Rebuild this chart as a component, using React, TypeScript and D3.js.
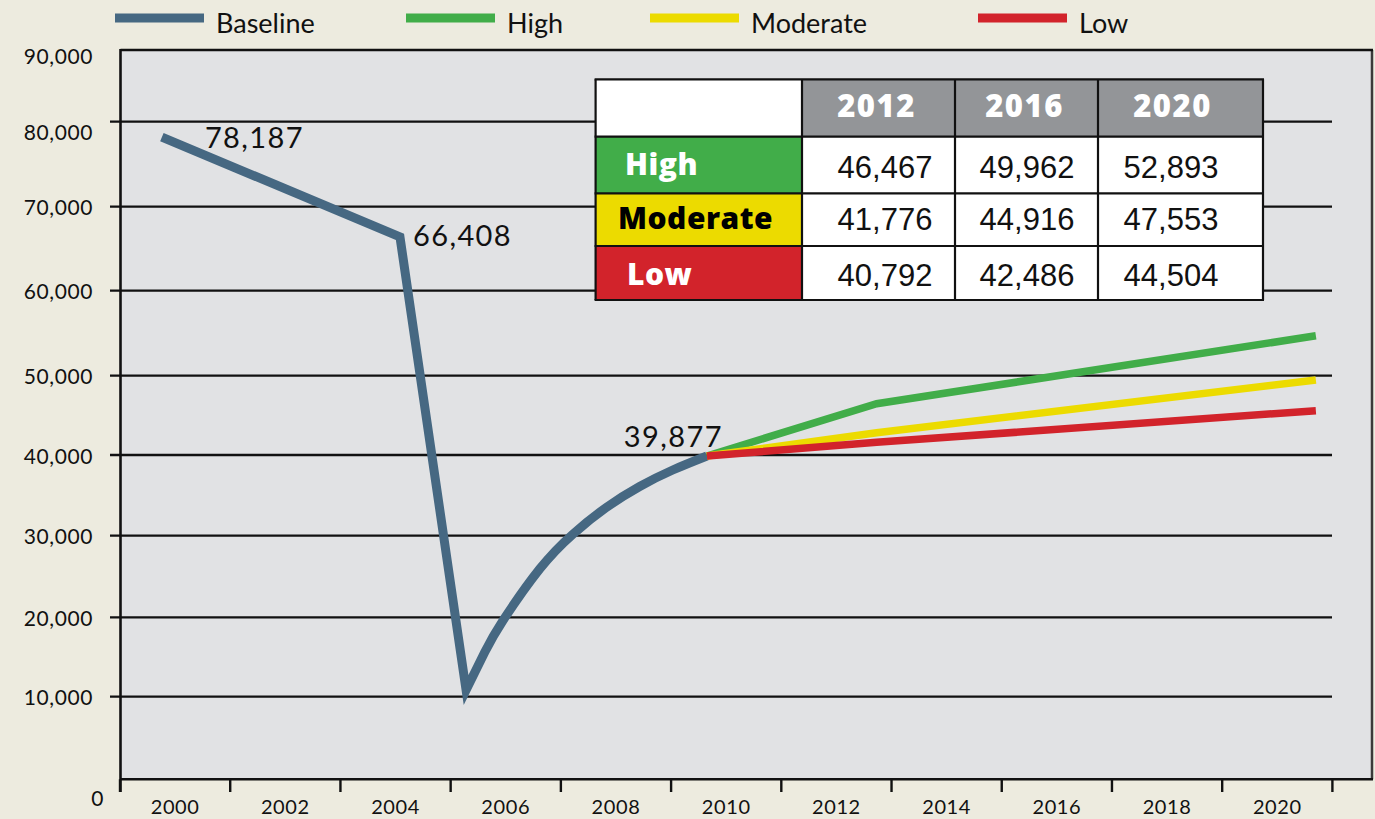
import React from 'react';
import * as d3 from 'd3';

// ---------- data ----------
const xLabelYears = [2000, 2002, 2004, 2006, 2008, 2010, 2012, 2014, 2016, 2018, 2020];
const xTickYears = [1999, 2001, 2003, 2005, 2007, 2009, 2011, 2013, 2015, 2017, 2019, 2021];
const yTickValues = [0, 10000, 20000, 30000, 40000, 50000, 60000, 70000, 80000, 90000];

// baseline: straight decline then collapse
const baselineYears = [1999.76, 2004.08, 2005.28];
const baselineValues = [78187, 66408, 10840];
// baseline recovery (smooth)
const recoveryYears = [2005.28, 2005.62, 2005.95, 2006.62, 2007.22, 2007.82, 2008.43, 2009.03, 2009.65];
const recoveryValues = [10840, 15630, 19600, 25960, 30210, 33480, 36100, 38140, 39877];

// projections
const projectionYears = [2009.65, 2012.73, 2020.7];
const highValues = [39877, 46467, 54700];
const moderateValues = [39877, 42800, 49450];
const lowValues = [39877, 41600, 45590];

const labelPoints = [
  { year: 1999.76, value: 78187, text: '78,187' },
  { year: 2004.08, value: 66408, text: '66,408' },
  { year: 2009.65, value: 39877, text: '39,877' },
];

const legendLabels = ['Baseline', 'High', 'Moderate', 'Low'];
const tableYears = ['2012', '2016', '2020'];
const tableRowLabels = ['High', 'Moderate', 'Low'];
const tableHigh = ['46,467', '49,962', '52,893'];
const tableModerate = ['41,776', '44,916', '47,553'];
const tableLow = ['40,792', '42,486', '44,504'];

// ---------- styles ----------
const W = 1375;
const H = 819;
const BG = '#edebdf';
const PLOT_BG = '#e1e2e4';
const C_BASE = '#466882';
const C_HIGH = '#41ad49';
const C_MOD = '#ecdb00';
const C_LOW = '#d2232b';
const C_HEAD = '#939598';
const FONT = "Lato, 'Open Sans', sans-serif";
const FONT_BOLD = "'Open Sans', Lato, sans-serif";
const FONT_NUM = "'Liberation Sans', Arial, sans-serif";

const plotLeft = 120.5;
const plotRight = 1372;
const plotTop = 50;
const plotBottom = 779.3;
const gridRight = 1332;

export default function App() {
  const x = d3.scaleLinear().domain([1999, 2021]).range([120, 1332.4]);
  const y = d3
    .scaleLinear()
    .domain(yTickValues)
    .range([779.3, 696.7, 617.3, 535.7, 455, 375.7, 290.7, 206.7, 121.7, 50]);

  const lin = d3
    .line<[number, number]>()
    .x((d) => x(d[0]))
    .y((d) => y(d[1]));
  const smooth = d3
    .line<[number, number]>()
    .x((d) => x(d[0]))
    .y((d) => y(d[1]))
    .curve(d3.curveNatural);

  const basePts = baselineYears.map((yr, i) => [yr, baselineValues[i]] as [number, number]);
  const recPts = recoveryYears.map((yr, i) => [yr, recoveryValues[i]] as [number, number]);
  const basePath = (lin(basePts) || '') + (smooth(recPts) || '').replace(/^M/, 'L');

  const projSeries = [
    { values: highValues, color: C_HIGH },
    { values: moderateValues, color: C_MOD },
    { values: lowValues, color: C_LOW },
  ];

  const legendColors = [C_BASE, C_HIGH, C_MOD, C_LOW];
  const legendX = [115, 406, 650, 978];

  // table layout
  const colX = [595.6, 802, 955, 1098, 1263];
  const rowY = [79.3, 136.7, 193.3, 246, 300];
  const rowColors = [C_HIGH, C_MOD, C_LOW];
  const rowTextColors = ['#ffffff', '#000000', '#ffffff'];
  const rowLabelX = [625, 618, 627];
  const rowLabelBase = [175, 229, 285];
  const numBase = [178, 230, 286];
  const numCenters = [885, 1027, 1171];
  const tableRows = [tableHigh, tableModerate, tableLow];

  const labelOffsets: Record<number, { dx: number; dy: number; anchor: string }> = {
    0: { dx: 43, dy: 11, anchor: 'start' },
    1: { dx: 13, dy: 9.5, anchor: 'start' },
    2: { dx: 16, dy: -9, anchor: 'end' },
  };

  return (
    <div style={{ position: 'fixed', left: 0, top: 0, width: W, height: H }}>
      <svg width={W} height={H} style={{ display: 'block' }}>
        <rect x={0} y={0} width={W} height={H} fill={BG} />

        {/* plot area */}
        <rect
          x={plotLeft}
          y={plotTop}
          width={plotRight - plotLeft}
          height={plotBottom - plotTop}
          fill={PLOT_BG}
        />
        <line x1={plotRight} x2={plotRight} y1={plotTop} y2={plotBottom} stroke="#3a3a3a" strokeWidth={2.5} />
        <line x1={plotLeft} x2={plotRight + 1} y1={plotTop} y2={plotTop} stroke="#111" strokeWidth={2.5} />

        {/* gridlines + y ticks */}
        {yTickValues
          .filter((v) => v > 0 && v < 90000)
          .map((v) => (
            <line key={'g' + v} x1={110} x2={gridRight} y1={y(v)} y2={y(v)} stroke="#111" strokeWidth={2.3} />
          ))}

        {/* y labels */}
        {yTickValues.map((v) => {
          let dy = 0;
          let xr = 93;
          if (v === 90000) dy = 5;
          if (v === 80000) dy = 10;
          if (v === 0) {
            dy = 18;
            xr = 104;
          }
          return (
            <text
              key={'yl' + v}
              x={xr}
              y={y(v) + dy}
              textAnchor="end"
              dominantBaseline="central"
              fontFamily={FONT}
              fontSize={21}
              letterSpacing={0.6}
              fill="#111"
            >
              {d3.format(',')(v)}
            </text>
          );
        })}

        {/* axes */}
        <line x1={plotLeft} x2={plotLeft} y1={plotTop - 1} y2={792} stroke="#111" strokeWidth={2.6} />
        <line x1={plotLeft} x2={plotRight + 1} y1={plotBottom} y2={plotBottom} stroke="#111" strokeWidth={2.6} />
        {xTickYears.map((yr) => (
          <line key={'xt' + yr} x1={x(yr)} x2={x(yr)} y1={plotBottom} y2={792} stroke="#111" strokeWidth={2.4} />
        ))}
        {xLabelYears.map((yr) => (
          <text
            key={'xl' + yr}
            x={x(yr)}
            y={814}
            textAnchor="middle"
            fontFamily={FONT}
            fontSize={20}
            letterSpacing={0.6}
            fill="#111"
          >
            {yr}
          </text>
        ))}

        {/* baseline */}
        <path d={basePath} fill="none" stroke={C_BASE} strokeWidth={9} strokeLinejoin="miter" />

        {/* projections */}
        {projSeries.map((s, si) => (
          <path
            key={'p' + si}
            d={lin(projectionYears.map((yr, i) => [yr, s.values[i]] as [number, number])) || ''}
            fill="none"
            stroke={s.color}
            strokeWidth={7.5}
          />
        ))}

        {/* data labels */}
        {labelPoints.map((p, i) => (
          <text
            key={'dl' + i}
            x={x(p.year) + labelOffsets[i].dx}
            y={y(p.value) + labelOffsets[i].dy}
            textAnchor={labelOffsets[i].anchor as any}
            fontFamily={FONT}
            fontSize={29}
            letterSpacing={1.4}
            fill="#111"
          >
            {p.text}
          </text>
        ))}

        {/* table */}
        <g>
          <rect x={colX[0]} y={rowY[0]} width={colX[1] - colX[0]} height={rowY[1] - rowY[0]} fill="#fff" />
          {tableYears.map((t, j) => (
            <g key={'th' + t}>
              <rect
                x={colX[j + 1]}
                y={rowY[0]}
                width={colX[j + 2] - colX[j + 1]}
                height={rowY[1] - rowY[0]}
                fill={C_HEAD}
              />
              <text
                x={(colX[j + 1] + colX[j + 2]) / 2 - (j === 2 ? 8 : 2)}
                y={116.7}
                textAnchor="middle"
                fontFamily={FONT_BOLD}
                fontWeight={800}
                fontSize={31}
                letterSpacing={1.5}
                fill="#fff"
              >
                {t}
              </text>
            </g>
          ))}
          {tableRowLabels.map((lab, i) => (
            <g key={'tr' + lab}>
              <rect
                x={colX[0]}
                y={rowY[i + 1]}
                width={colX[1] - colX[0]}
                height={rowY[i + 2] - rowY[i + 1]}
                fill={rowColors[i]}
              />
              <text
                x={rowLabelX[i]}
                y={rowLabelBase[i]}
                fontFamily={FONT_BOLD}
                fontWeight={800}
                fontSize={30}
                letterSpacing={0.5}
                fill={rowTextColors[i]}
              >
                {lab}
              </text>
              {tableRows[i].map((val, j) => (
                <g key={'c' + j}>
                  <rect
                    x={colX[j + 1]}
                    y={rowY[i + 1]}
                    width={colX[j + 2] - colX[j + 1]}
                    height={rowY[i + 2] - rowY[i + 1]}
                    fill="#fff"
                  />
                  <text
                    x={numCenters[j]}
                    y={numBase[i]}
                    textAnchor="middle"
                    fontFamily={FONT_NUM}
                    fontSize={31}
                    fill="#111"
                  >
                    {val}
                  </text>
                </g>
              ))}
            </g>
          ))}
          {/* table borders */}
          {colX.map((cx, k) => (
            <line key={'vb' + k} x1={cx} x2={cx} y1={rowY[0]} y2={rowY[4]} stroke="#111" strokeWidth={2.2} />
          ))}
          {rowY.map((ry, k) => (
            <line key={'hb' + k} x1={colX[0] - 1} x2={colX[4] + 1} y1={ry} y2={ry} stroke="#111" strokeWidth={2.2} />
          ))}
        </g>

        {/* legend */}
        {legendLabels.map((lab, i) => (
          <g key={'lg' + lab}>
            <rect x={legendX[i]} y={13.5} width={89} height={9} fill={legendColors[i]} />
            <text
              x={legendX[i] + 101}
              y={33}
              fontFamily={FONT}
              fontSize={27}
              fill="#111"
            >
              {lab}
            </text>
          </g>
        ))}
      </svg>
    </div>
  );
}
